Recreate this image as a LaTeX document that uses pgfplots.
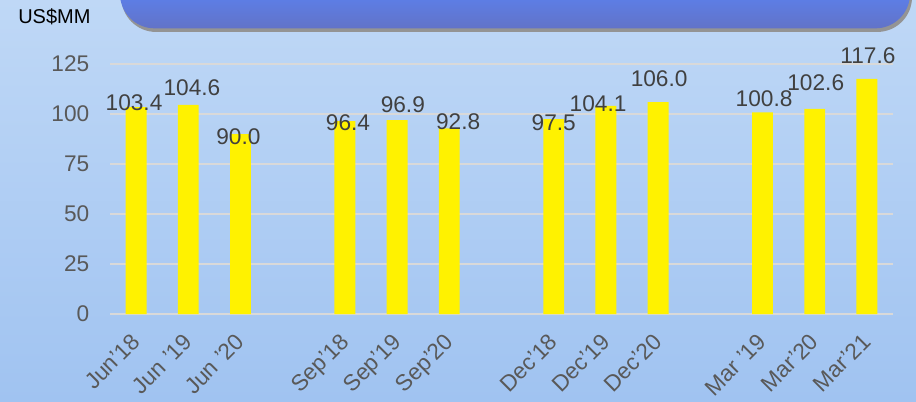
\documentclass[border=0pt]{standalone}
\usepackage{pgfplots}
\pgfplotsset{compat=1.18}
\usepackage{fontspec}
\setmainfont{Liberation Sans}
\definecolor{bgtop}{RGB}{191,216,246}
\definecolor{bgbot}{RGB}{160,195,241}
\definecolor{boxtop}{RGB}{90,132,247}
\definecolor{boxbot}{RGB}{98,115,200}
\definecolor{gridc}{RGB}{217,217,217}
\definecolor{tickc}{RGB}{89,89,89}
\definecolor{labc}{RGB}{64,64,64}
\begin{document}
\begin{tikzpicture}
\useasboundingbox (0,0) rectangle (687pt,300.75pt);
\clip (0,0) rectangle (687pt,300.75pt);
\shade[top color=bgtop,bottom color=bgbot] (0,0) rectangle (687pt,300.75pt);
\fill[black!42, rounded corners=26pt] (91pt,276.8pt) rectangle (684pt,340pt);
\shade[top color=boxtop,bottom color=boxbot,middle color=boxtop!85!boxbot, rounded corners=26pt] (90pt,279.5pt) rectangle (682.5pt,340pt);
\node[anchor=west, inner sep=0pt, font=\fontsize{15}{18}\selectfont] at (13.5pt,288pt) {US\$MM};
\begin{axis}[
  at={(82.5pt,65.25pt)}, anchor=south west,
  width=587.25pt, height=187.5pt, scale only axis,
  xmin=-0.5, xmax=14.5, ymin=0, ymax=125,
  clip=false,
  axis line style={draw=none},
  major tick length=0pt,
  ytick={0,25,50,75,100,125},
  ymajorgrids, grid style={gridc, line width=1.3pt},
  xtick={0,1,2,4,5,6,8,9,10,12,13,14},
  xticklabels={Jun'18,Jun '19,Jun '20,Sep'18,Sep'19,Sep'20,Dec'18,Dec'19,Dec'20,Mar '19,Mar'20,Mar'21},
  /pgf/number format/assume math mode=true,
  ticklabel style={font=\fontsize{17}{20}\selectfont, text=tickc},
  yticklabel style={anchor=east, xshift=-12pt},
  xticklabel style={anchor=north east, inner sep=0pt, xshift=-4.5pt, yshift=-13.5pt, rotate=45},
]
\addplot[ybar, bar width=0.4, fill=yellow, draw=none] table {
x y
0 103.4
1 104.6
2 90.0
4 96.4
5 96.9
6 92.8
8 97.5
9 104.1
10 106.0
12 100.8
13 102.6
14 117.6
};
\addplot[draw=none, mark=none, nodes near coords, point meta=explicit symbolic,
  nodes near coords style={anchor=center, inner sep=0pt, font=\fontsize{17}{20}\selectfont, text=labc}]
  table[meta=l] {
x y l
-0.04 105.5 103.4
1.07 113 104.6
1.96 88.75 90.0
4.06 95.75 96.4
5.11 104.5 96.9
6.17 96.25 92.8
8.0 95.75 97.5
8.85 105 104.1
10.02 117.5 106.0
12.03 107.5 100.8
13.02 115.75 102.6
14.02 129 117.6
};
\end{axis}
\end{tikzpicture}
\end{document}
